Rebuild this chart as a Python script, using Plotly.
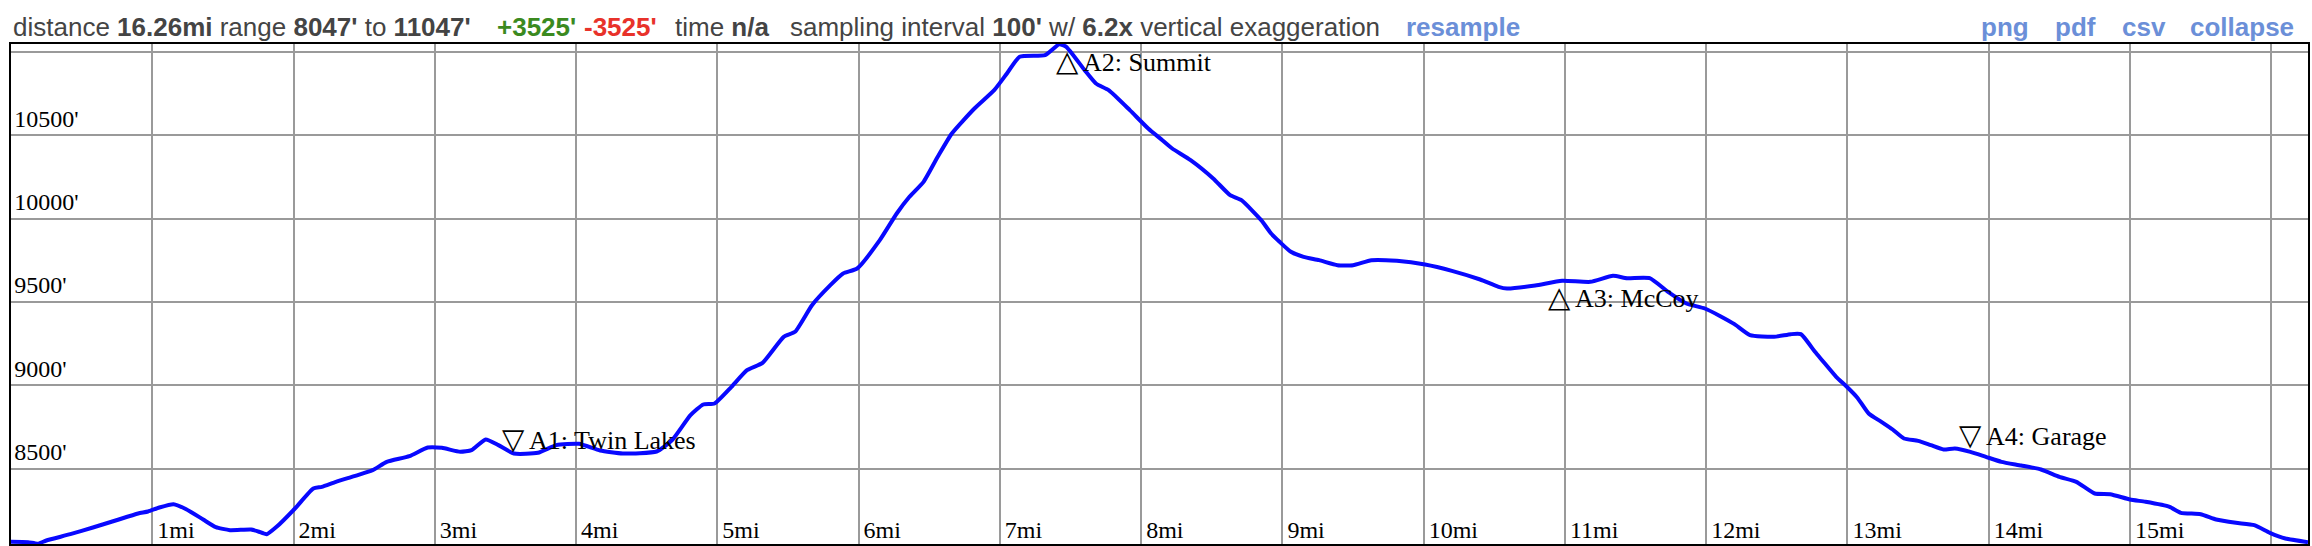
import plotly.graph_objects as go

# elevation profile (miles, feet)
miles = [0.00, 0.12, 0.19, 0.25, 0.42, 0.58, 0.74, 0.90, 0.97, 1.05, 1.15, 1.24, 1.36, 1.45,
         1.55, 1.70, 1.75, 1.81, 1.88, 2.01, 2.14, 2.20, 2.30, 2.43, 2.56, 2.66, 2.82, 2.95,
         3.05, 3.18, 3.26, 3.36, 3.45, 3.56, 3.73, 3.86, 4.02, 4.17, 4.33, 4.57, 4.68, 4.81,
         4.90, 4.98, 5.10, 5.21, 5.32, 5.47, 5.55, 5.67, 5.80, 5.89, 5.99, 6.15, 6.27, 6.36,
         6.46, 6.56, 6.66, 6.82, 6.96, 7.05, 7.14, 7.32, 7.42, 7.47, 7.60, 7.68, 7.77, 7.92,
         8.05, 8.15, 8.22, 8.35, 8.51, 8.63, 8.71, 8.85, 8.92, 8.98, 9.06, 9.15, 9.26, 9.39,
         9.50, 9.63, 9.81, 10.01, 10.20, 10.40, 10.53, 10.59, 10.79, 10.98, 11.18, 11.34,
         11.44, 11.60, 11.73, 11.86, 11.99, 12.10, 12.20, 12.31, 12.48, 12.60, 12.67, 12.77,
         12.82, 12.92, 12.99, 13.07, 13.15, 13.24, 13.32, 13.40, 13.50, 13.59, 13.68, 13.76,
         13.87, 13.98, 14.09, 14.23, 14.37, 14.50, 14.62, 14.75, 14.86, 15.00, 15.11, 15.28,
         15.36, 15.50, 15.61, 15.75, 15.88, 15.99, 16.10, 16.26]
elev = [8060, 8058, 8049, 8068, 8106, 8146, 8188, 8230, 8242, 8266, 8286, 8256, 8194, 8148,
        8130, 8134, 8122, 8106, 8150, 8260, 8380, 8390, 8420, 8454, 8490, 8540, 8574, 8626,
        8624, 8600, 8610, 8674, 8640, 8590, 8594, 8640, 8648, 8608, 8590, 8602, 8670, 8820,
        8884, 8890, 8990, 9090, 9134, 9290, 9320, 9480, 9600, 9670, 9700, 9870, 10030, 10130,
        10220, 10370, 10510, 10660, 10770, 10870, 10970, 10980, 11045, 11030, 10890, 10810, 10770, 10650,
        10540, 10470, 10420, 10350, 10240, 10140, 10110, 9990, 9910, 9860, 9800, 9770, 9750, 9720,
        9720, 9750, 9746, 9724, 9686, 9634, 9590, 9580, 9598, 9626, 9620, 9656,
        9642, 9642, 9560, 9490, 9460, 9414, 9366, 9300, 9290, 9306, 9306, 9200,
        9150, 9050, 8995, 8925, 8830, 8780, 8734, 8680, 8666, 8640, 8614, 8620,
        8600, 8570, 8540, 8518, 8494, 8450, 8420, 8350, 8346, 8314, 8300, 8270,
        8234, 8226, 8194, 8174, 8160, 8114, 8080, 8058]

# waypoints
wp_names = ["A1: Twin Lakes", "A2: Summit", "A3: McCoy", "A4: Garage"]
wp_miles = [3.555, 7.478, 10.96, 13.865]
wp_elev = [8590, 11040, 9625, 8610]
wp_up = [False, True, True, False]

mile_ticks = list(range(1, 17))
mile_labels = [f"{m}mi" for m in mile_ticks]
ft_ticks = [8500, 9000, 9500, 10000, 10500, 11000]
ft_labels = ["8500'", "9000'", "9500'", "10000'", "10500'", ""]

W, H = 2312, 546
ML, MR, MT, MB = 11, 4, 44, 2
PW, PH = W - ML - MR, H - MT - MB


def px(x, y):
    # pixel position on page -> paper coords
    return (x - ML) / PW, (H - MB - y) / PH


fig = go.Figure()
fig.add_trace(go.Scatter(x=miles, y=elev, mode="lines",
                         line=dict(color="#0808ff", width=4, shape="spline", smoothing=0.5),
                         hoverinfo="skip"))

serif = "Liberation Serif, Times New Roman, serif"
for name, m, e, up in zip(wp_names, wp_miles, wp_elev, wp_up):
    sym = "\u25b3" if up else "\u25bd"
    fig.add_annotation(x=m, y=e, text=f"<span style='font-size:29px'>{sym}</span> {name}",
                       showarrow=False,
                       xanchor="left", yanchor="top" if up else "bottom",
                       xshift=-13, yshift=2 if up else -3,
                       font=dict(family=serif, size=26, color="black"))

# header line
sans = "Liberation Sans, Arial, sans-serif"
gray = "#444444"
hdr = [
    (11, "distance <b>16.26mi</b> range <b>8047'</b> to <b>11047'</b>", gray),
    (495, "<b>+3525'</b>", "#3b8a1f"),
    (582, "<b>-3525'</b>", "#e8322a"),
    (673, "time <b>n/a</b>", gray),
    (788, "sampling interval <b>100'</b> w/ <b>6.2x</b> vertical exaggeration", gray),
    (1404, "<b>resample</b>", "#6b8fd8"),
    (1979, "<b>png</b>", "#6b8fd8"),
    (2053, "<b>pdf</b>", "#6b8fd8"),
    (2120, "<b>csv</b>", "#6b8fd8"),
    (2188, "<b>collapse</b>", "#6b8fd8"),
]
for x0, txt, col in hdr:
    ax, ay = px(x0, 27)
    fig.add_annotation(xref="paper", yref="paper", x=ax, y=ay, text=txt,
                       showarrow=False, xanchor="left", yanchor="middle",
                       font=dict(family=sans, size=26, color=col))

fig.update_xaxes(range=[0, 16.26], tickvals=mile_ticks, ticktext=mile_labels,
                 ticks="", ticklabelposition="inside right", ticklabelshift=4,
                 showgrid=True, gridcolor="#9a9a9a", gridwidth=2, zeroline=False,
                 showline=True, mirror=True, linecolor="black", linewidth=2,
                 tickfont=dict(family=serif, size=24, color="black"))
fig.update_yaxes(range=[8047, 11047], tickvals=ft_ticks, ticktext=ft_labels,
                 ticks="", ticklabelposition="inside top", ticklabelstandoff=4,
                 showgrid=True, gridcolor="#9a9a9a", gridwidth=2, zeroline=False,
                 showline=True, mirror=True, linecolor="black", linewidth=2,
                 tickfont=dict(family=serif, size=24, color="black"))

fig.update_layout(width=W, height=H, margin=dict(l=ML, r=MR, t=MT, b=MB),
                  plot_bgcolor="white", paper_bgcolor="white", showlegend=False)

fig.write_html("out.html", config={"displayModeBar": False},
               post_script="document.body.style.margin='0';")
